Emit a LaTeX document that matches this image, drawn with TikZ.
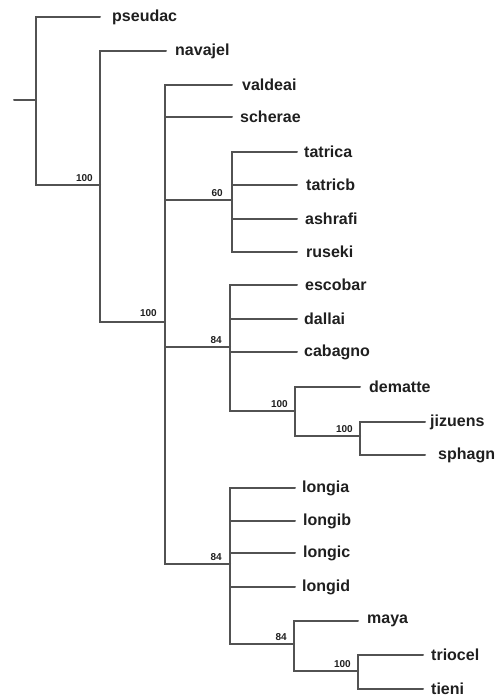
\documentclass[tikz,border=0pt]{standalone}
\usepackage{fontspec}
\setmainfont{Liberation Sans}
\begin{document}
\begin{tikzpicture}[x=1pt,y=-1pt,
  br/.style={draw=black!68,line width=2pt,line cap=round},
  leaf/.style={anchor=west,inner sep=0pt,text=black!88,font=\fontsize{16}{18}\selectfont\bfseries},
  sup/.style={anchor=south east,inner sep=0pt,yshift=3pt,text=black!88,font=\fontsize{10}{12}\selectfont\bfseries}]
\useasboundingbox (0,0) rectangle (500,698);
% internal nodes
\coordinate (stub) at (14,100);
\coordinate (R) at (36,100);
\coordinate (n1) at (100,185);
\coordinate (n2) at (165,322);
\coordinate (n3) at (232,200);
\coordinate (n4) at (230,347);
\coordinate (n5) at (295,411);
\coordinate (n5b) at (360,436);
\coordinate (n6) at (230,564);
\coordinate (n7) at (294,644);
\coordinate (n8) at (358,671);
% leaf tips
\coordinate (t1) at (100,17);
\coordinate (t2) at (166,51);
\coordinate (t3) at (232,85);
\coordinate (t4) at (232,117);
\coordinate (t5) at (297,152);
\coordinate (t6) at (297,185);
\coordinate (t7) at (297,219);
\coordinate (t8) at (297,252);
\coordinate (t9) at (297,285);
\coordinate (t10) at (297,319);
\coordinate (t11) at (297,352);
\coordinate (t12) at (360,387);
\coordinate (t13) at (425,422);
\coordinate (t14) at (425,455);
\coordinate (t15) at (295,488);
\coordinate (t16) at (295,521);
\coordinate (t17) at (295,553);
\coordinate (t18) at (295,587);
\coordinate (t19) at (358,621);
\coordinate (t20) at (423,655);
\coordinate (t21) at (423,689);
% leaf labels
\node[leaf,xshift=12pt] (l1) at (t1) {pseudac};
\node[leaf,xshift=9pt] (l2) at (t2) {navajel};
\node[leaf,xshift=10pt] (l3) at (t3) {valdeai};
\node[leaf,xshift=8pt] (l4) at (t4) {scherae};
\node[leaf,xshift=7pt] (l5) at (t5) {tatrica};
\node[leaf,xshift=9pt] (l6) at (t6) {tatricb};
\node[leaf,xshift=8pt] (l7) at (t7) {ashrafi};
\node[leaf,xshift=9pt] (l8) at (t8) {ruseki};
\node[leaf,xshift=8pt] (l9) at (t9) {escobar};
\node[leaf,xshift=7pt] (l10) at (t10) {dallai};
\node[leaf,xshift=7pt] (l11) at (t11) {cabagno};
\node[leaf,xshift=9pt] (l12) at (t12) {dematte};
\node[leaf,xshift=5pt] (l13) at (t13) {jizuens};
\node[leaf,xshift=13pt] (l14) at (t14) {sphagn};
\node[leaf,xshift=7pt] (l15) at (t15) {longia};
\node[leaf,xshift=8pt] (l16) at (t16) {longib};
\node[leaf,xshift=8pt] (l17) at (t17) {longic};
\node[leaf,xshift=7pt] (l18) at (t18) {longid};
\node[leaf,xshift=9pt] (l19) at (t19) {maya};
\node[leaf,xshift=8pt] (l20) at (t20) {triocel};
\node[leaf,xshift=8pt] (l21) at (t21) {tieni};
% branches
\draw[br] (stub) -- (R);
\draw[br] (R) |- (t1);
\draw[br] (R) |- (n1);
\draw[br] (n1) |- (t2);
\draw[br] (n1) |- (n2);
\draw[br] (n2) |- (t3);
\draw[br] (n2) |- (t4);
\draw[br] (n2) |- (n3);
\draw[br] (n2) |- (n4);
\draw[br] (n2) |- (n6);
\foreach \t in {t5,t6,t7,t8} \draw[br] (n3) |- (\t);
\foreach \t in {t9,t10,t11,n5} \draw[br] (n4) |- (\t);
\draw[br] (n5) |- (t12);
\draw[br] (n5) |- (n5b);
\draw[br] (n5b) |- (t13);
\draw[br] (n5b) |- (t14);
\foreach \t in {t15,t16,t17,t18,n7} \draw[br] (n6) |- (\t);
\draw[br] (n7) |- (t19);
\draw[br] (n7) |- (n8);
\draw[br] (n8) |- (t20);
\draw[br] (n8) |- (t21);
% support values
\node[sup,xshift=-7pt] (s1) at (n1) {100};
\node[sup,xshift=-8pt,yshift=2pt] (s2) at (n2) {100};
\node[sup,xshift=-9pt] (s3) at (n3) {60};
\node[sup,xshift=-8pt] (s4) at (n4) {84};
\node[sup,xshift=-7pt] (s5) at (n5) {100};
\node[sup,xshift=-7pt] (s5b) at (n5b) {100};
\node[sup,xshift=-8pt] (s6) at (n6) {84};
\node[sup,xshift=-7pt] (s7) at (n7) {84};
\node[sup,xshift=-7pt] (s8) at (n8) {100};
\end{tikzpicture}
\end{document}
